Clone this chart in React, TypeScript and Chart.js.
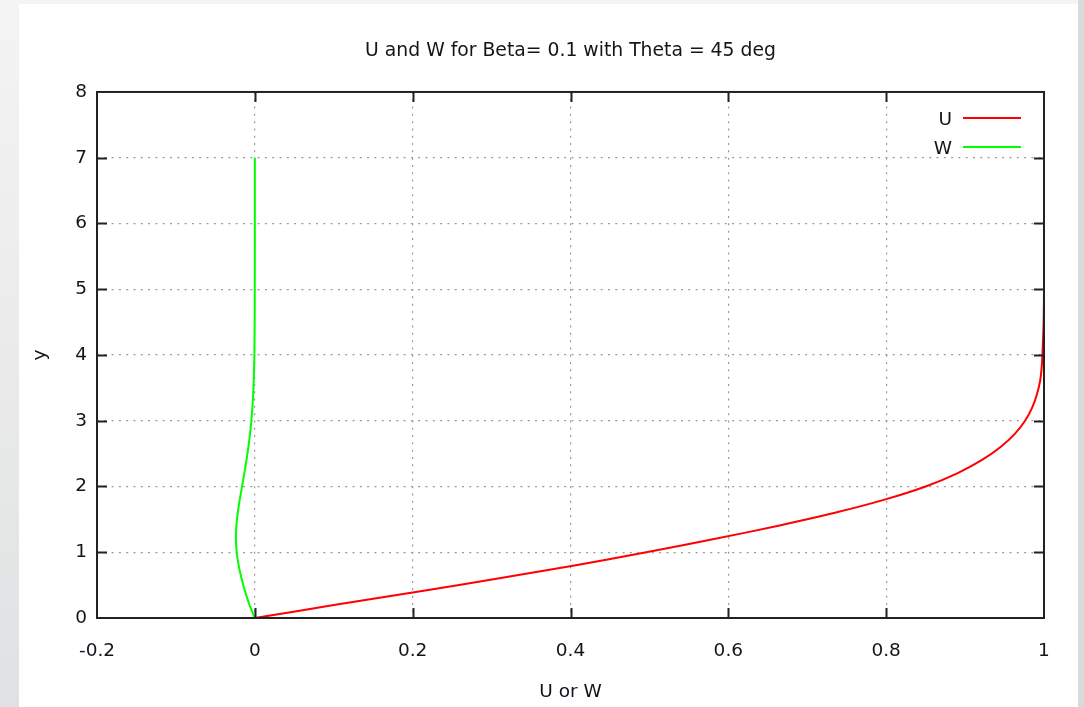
import React, { useEffect, useRef } from 'react';
import { Chart, registerables } from 'chart.js';

Chart.register(...registerables);

const titleText = 'U and W for Beta= 0.1 with Theta = 45 deg';
const xAxisTitle = 'U or W';
const yAxisTitle = 'y';
const seriesLabels = ['U', 'W'];
const seriesColors = ['#ff0000', '#00ff00'];

const yValues = [0, 0.2, 0.4, 0.6, 0.8, 1.0, 1.2, 1.4, 1.6, 1.8, 2.0, 2.2, 2.4, 2.6, 2.8, 3.0, 3.2, 3.4, 3.6, 3.8, 4.0, 4.5, 5.0, 5.5, 6.0, 6.5, 7.0];
const uValues = [0, 0.102, 0.206, 0.308, 0.405, 0.496, 0.582, 0.662, 0.735, 0.798, 0.85, 0.89, 0.921, 0.945, 0.963, 0.976, 0.985, 0.991, 0.995, 0.997, 0.998, 0.9995, 1, 1, 1, 1, 1];
const wValues = [0, -0.0068, -0.0122, -0.0168, -0.0205, -0.023, -0.024, -0.0234, -0.0216, -0.0191, -0.0162, -0.0133, -0.0106, -0.0082, -0.0061, -0.0044, -0.0031, -0.0021, -0.0014, -0.0009, -0.0006, -0.0002, -0.0001, 0, 0, 0, 0];

const xTicks = [-0.2, 0, 0.2, 0.4, 0.6, 0.8, 1];
const yTicks = [0, 1, 2, 3, 4, 5, 6, 7, 8];

const FONT = '"DejaVu Sans", sans-serif';
const TEXT = '#14141c';

const backgroundPlugin = {
  id: 'bgPanel',
  beforeDraw(chart: any) {
    const { ctx, width, height } = chart;
    ctx.save();
    const g = ctx.createLinearGradient(0, 0, 0, height);
    g.addColorStop(0, '#f4f4f4');
    g.addColorStop(1, '#e0e1e2');
    ctx.fillStyle = g;
    ctx.fillRect(0, 0, width, height);
    ctx.fillStyle = '#d8dadc';
    ctx.fillRect(1078, 0, width - 1078, height);
    ctx.fillStyle = '#ffffff';
    ctx.fillRect(19, 4, 1059, height - 4);
    ctx.restore();
  },
};

const framePlugin = {
  id: 'gnuFrame',
  afterDatasetsDraw(chart: any) {
    const { ctx, chartArea, scales } = chart;
    const { left, right, top, bottom } = chartArea;
    ctx.save();
    ctx.strokeStyle = '#222222';
    ctx.lineWidth = 2;
    ctx.beginPath();
    xTicks.slice(1, -1).forEach((v) => {
      const px = Math.round(scales.x.getPixelForValue(v)) + 0.5;
      ctx.moveTo(px, bottom);
      ctx.lineTo(px, bottom - 10);
      ctx.moveTo(px, top);
      ctx.lineTo(px, top + 10);
    });
    yTicks.slice(1, -1).forEach((v) => {
      const py = Math.round(scales.y.getPixelForValue(v)) + 0.5;
      ctx.moveTo(left, py);
      ctx.lineTo(left + 10, py);
      ctx.moveTo(right, py);
      ctx.lineTo(right - 10, py);
    });
    ctx.stroke();
    ctx.strokeRect(left, top, right - left, bottom - top);
    ctx.restore();
  },
  afterDraw(chart: any) {
    const { ctx, chartArea } = chart;
    const { right, top } = chartArea;
    ctx.save();
    ctx.font = '18.5px ' + FONT;
    ctx.fillStyle = TEXT;
    ctx.textAlign = 'right';
    ctx.textBaseline = 'middle';
    chart.data.datasets.forEach((ds: any, i: number) => {
      const ly = top + 26 + i * 29;
      ctx.fillText(ds.label, right - 92, ly + 2);
      ctx.strokeStyle = ds.borderColor;
      ctx.lineWidth = 2;
      ctx.beginPath();
      ctx.moveTo(right - 81, ly);
      ctx.lineTo(right - 23, ly);
      ctx.stroke();
    });
    ctx.restore();
  },
};

export default function App() {
  const ref = useRef<HTMLCanvasElement | null>(null);

  useEffect(() => {
    if (!ref.current) return;
    const makePoints = (xs: number[]) => yValues.map((y, i) => ({ x: xs[i], y }));
    const chart = new Chart(ref.current, {
      type: 'scatter',
      data: {
        datasets: [
          {
            label: seriesLabels[0],
            data: makePoints(uValues),
            borderColor: seriesColors[0],
            backgroundColor: seriesColors[0],
            showLine: true,
            pointRadius: 0,
            borderWidth: 2,
            tension: 0.3,
            clip: false as any,
          },
          {
            label: seriesLabels[1],
            data: makePoints(wValues),
            borderColor: seriesColors[1],
            backgroundColor: seriesColors[1],
            showLine: true,
            pointRadius: 0,
            borderWidth: 2,
            tension: 0.3,
            clip: false as any,
          },
        ],
      },
      options: {
        responsive: false,
        animation: false,
        layout: { padding: { left: 0, right: 40, top: 0, bottom: 0 } },
        plugins: {
          legend: { display: false },
          tooltip: { enabled: false },
          title: {
            display: true,
            fullSize: false,
            text: titleText,
            color: TEXT,
            font: { family: FONT, size: 18.8, weight: 'normal' as any },
            padding: { top: 39.8, bottom: 29.6 },
          },
        },
        scales: {
          x: {
            type: 'linear',
            min: -0.2,
            max: 1,
            afterBuildTicks: (s: any) => {
              s.ticks = xTicks.map((v) => ({ value: v }));
            },
            afterFit: (s: any) => {
              s.height = 89;
            },
            ticks: {
              color: TEXT,
              font: { family: FONT, size: 18.5 },
              padding: 22,
              maxRotation: 0,
              callback: (v: any) => String(Math.round(Number(v) * 10) / 10),
            },
            grid: {
              color: '#9a9a9a',
              lineWidth: 1.2,
              drawTicks: false,
            },
            border: { display: false, dash: [2, 5.3] },
            title: {
              display: true,
              text: xAxisTitle,
              color: TEXT,
              font: { family: FONT, size: 18.5 },
              padding: { top: 0, bottom: 4 },
            },
          },
          y: {
            type: 'linear',
            min: 0,
            max: 8,
            afterBuildTicks: (s: any) => {
              s.ticks = yTicks.map((v) => ({ value: v }));
            },
            afterFit: (s: any) => {
              s.width = 97;
            },
            ticks: {
              color: TEXT,
              font: { family: FONT, size: 18.5 },
              padding: 10,
              callback: (v: any) => String(v),
            },
            grid: {
              color: '#9a9a9a',
              lineWidth: 1.2,
              drawTicks: false,
            },
            border: { display: false, dash: [2, 5.3] },
            title: {
              display: true,
              text: yAxisTitle,
              color: TEXT,
              font: { family: FONT, size: 18.5 },
              padding: { top: 29, bottom: 0 },
            },
          },
        },
      },
      plugins: [backgroundPlugin, framePlugin],
    });
    return () => chart.destroy();
  }, []);

  return (
    <div style={{ position: 'fixed', left: 0, top: 0, width: 1084, height: 707 }}>
      <canvas ref={ref} width={1084} height={707} style={{ width: 1084, height: 707, display: 'block' }} />
    </div>
  );
}
